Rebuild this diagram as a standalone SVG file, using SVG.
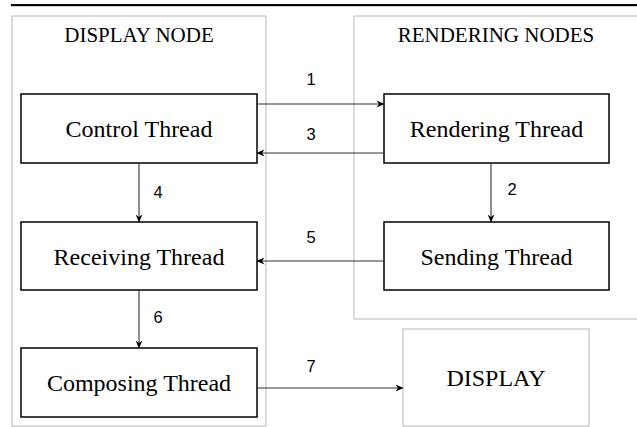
<svg xmlns="http://www.w3.org/2000/svg" width="637" height="427" viewBox="0 0 637 427">
<style>
.cont{fill:none;stroke:#c8c8c8;stroke-width:1.3}
.node{fill:#fff;stroke:#000;stroke-width:1.5}
.edge{fill:none;stroke:#333;stroke-width:1.1;marker-end:url(#ah)}
</style>
<defs>
<marker id="ah" viewBox="0 0 8 8" refX="7.5" refY="4" markerWidth="8" markerHeight="8" markerUnits="userSpaceOnUse" orient="auto">
<path d="M0,0.6 L8,4 L0,7.4 L2.5,4 z" fill="#000"/>
</marker>
</defs>
<rect x="11" y="4" width="626" height="2.2" fill="#000"/>
<g font-family="Liberation Serif, DejaVu Serif, serif" text-anchor="middle" fill="#000">
<g id="display-node-group">
<rect class="cont" x="12" y="16" width="254" height="410"/>
<text font-size="21" x="139" y="42">DISPLAY NODE</text>
</g>
<g id="rendering-nodes-group">
<rect class="cont" x="354" y="16" width="290" height="303"/>
<text font-size="21" x="496" y="42">RENDERING NODES</text>
</g>
<g id="control-thread">
<rect class="node" x="21" y="94" width="236" height="69"/>
<text font-size="24" x="139" y="137">Control Thread</text>
</g>
<g id="rendering-thread">
<rect class="node" x="384" y="94" width="225" height="69"/>
<text font-size="24" x="496.5" y="137">Rendering Thread</text>
</g>
<g id="receiving-thread">
<rect class="node" x="21" y="222" width="236" height="68"/>
<text font-size="24" x="139" y="265">Receiving Thread</text>
</g>
<g id="sending-thread">
<rect class="node" x="384" y="222" width="225" height="68"/>
<text font-size="24" x="496.5" y="265">Sending Thread</text>
</g>
<g id="composing-thread">
<rect class="node" x="21" y="348" width="236" height="69"/>
<text font-size="24" x="139" y="391">Composing Thread</text>
</g>
<g id="display">
<rect class="cont" x="403" y="329" width="186" height="97"/>
<text font-size="24" x="496" y="386">DISPLAY</text>
</g>
</g>
<g id="connectors" font-family="Liberation Sans, Arial, sans-serif" font-size="16.5" text-anchor="middle" fill="#000">
<path class="edge" d="M257,104 L384,104"/>
<text x="311" y="85">1</text>
<path class="edge" d="M384,153 L257,153"/>
<text x="311" y="140">3</text>
<path class="edge" d="M491,163 L491,222"/>
<text x="512" y="195">2</text>
<path class="edge" d="M139,163 L139,222"/>
<text x="158" y="198">4</text>
<path class="edge" d="M384,261 L257,261"/>
<text x="311" y="243">5</text>
<path class="edge" d="M139,290 L139,348"/>
<text x="158" y="323">6</text>
<path class="edge" d="M257,388 L403,388"/>
<text x="311" y="372">7</text>
</g>
</svg>
